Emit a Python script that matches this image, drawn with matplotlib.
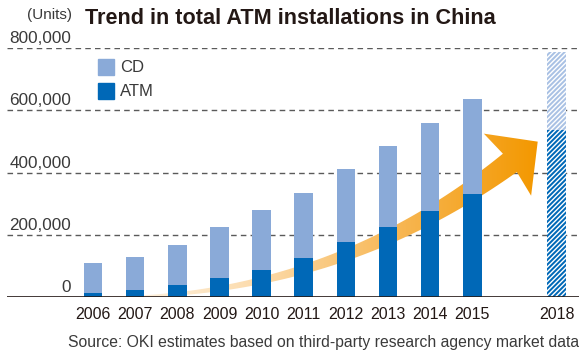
import numpy as np
import matplotlib
matplotlib.use('Agg')
import matplotlib.pyplot as plt
from matplotlib.patches import Polygon, Rectangle
from matplotlib.colors import LinearSegmentedColormap

plt.rcParams['font.family'] = ['Liberation Sans', 'DejaVu Sans']
plt.rcParams['hatch.linewidth'] = 1.0

# data (units)
years = ['2006', '2007', '2008', '2009', '2010', '2011', '2012', '2013', '2014', '2015', '2018']
atm = np.array([14000, 22000, 40000, 61000, 88000, 124000, 176000, 225000, 277000, 330000, 537000])
total = np.array([108000, 128000, 166000, 224000, 279000, 335000, 411000, 485000, 558000, 636000, 787000])
cd = total - atm
yticks = [0, 200000, 400000, 600000, 800000]

text_col = '#231815'
atm_col = '#0068b7'
cd_col = '#8aaad8'

fig = plt.figure(figsize=(5.79, 3.5), dpi=100)
ax = fig.add_axes([7 / 579, 53 / 350, 572 / 579, 249 / 350])

x = np.arange(len(years), dtype=float)
x[-1] += 1  # gap before the 2018 estimate
w = 0.44

ax.set_xlim(-2.04, 11.53)
ax.set_ylim(0, 800000)

# grid lines and value labels sitting above them
for v in yticks[1:]:
    ax.axhline(v, color='#5a5a5a', lw=1.0, ls=(0, (4, 3)), zorder=1)
for v in yticks:
    ax.text(0.112, v + 6000, '{:,}'.format(v), transform=ax.get_yaxis_transform(),
            ha='right', va='bottom', fontsize=12.3, color='#3a3a3a')
ax.axhline(0, color=text_col, lw=1.2, zorder=5)

# growth arrow (built in pixel space, stored in data coords)
fig.canvas.draw()
tr = ax.transData
p0 = tr.transform((0.17, 0))
p1 = tr.transform((5.62, -9600))
p2 = tr.transform((9.89, 431000))
t = np.linspace(0, 1, 80)[:, None]
pts = (1 - t) ** 2 * p0 + 2 * (1 - t) * t * p1 + t ** 2 * p2
d = 2 * (1 - t) * (p1 - p0) + 2 * t * (p2 - p1)
d = d / np.linalg.norm(d, axis=1)[:, None]
nrm = np.column_stack([-d[:, 1], d[:, 0]])
half = (1 + 22 * t[:, 0] ** 1.3) / 2
left = pts + nrm * half[:, None]
right = pts - nrm * half[:, None]
end, de, ne = pts[-1], d[-1], nrm[-1]
tip = end + 35 * de
barb_l = end + 39 * ne - 3 * de
barb_r = end - 39 * ne - 3 * de
outline = np.vstack([left, [barb_l, tip, barb_r], right[::-1]])
outline = tr.inverted().transform(outline)
arrow = Polygon(outline, closed=True, facecolor='none', edgecolor='none', transform=ax.transData)
ax.add_patch(arrow)
cmap = LinearSegmentedColormap.from_list('arr', [(0, '#fff8ee'), (0.35, '#fcdcae'),
                                                  (0.7, '#f7b54f'), (1, '#f39800')])
grad = np.linspace(0, 1, 256)[None, :]
xmin, xmax = outline[:, 0].min(), outline[:, 0].max()
ymin, ymax = outline[:, 1].min(), outline[:, 1].max()
im = ax.imshow(grad, cmap=cmap, extent=(xmin, xmax, ymin, ymax), aspect='auto',
               origin='lower', zorder=2, interpolation='bilinear')
im.set_clip_path(arrow)

# stacked bars; 2018 is an estimate (hatched)
solid = slice(0, len(years) - 1)
ax.bar(x[solid], atm[solid], w, color=atm_col, zorder=3)
ax.bar(x[solid], cd[solid], w, bottom=atm[solid], color=cd_col, zorder=3)
ax.bar(x[-1], atm[-1], w, color=atm_col, edgecolor='white', lw=0, hatch='///////', zorder=3)
ax.bar(x[-1], cd[-1], w, bottom=atm[-1], color='#a9c1e4', edgecolor='white', lw=0,
       hatch='///////', zorder=3)

ax.set_xticks(x)
ax.set_xticklabels(years, fontsize=11.5, color=text_col)
ax.tick_params(axis='x', length=0, pad=7)
ax.set_yticks([])
for s in ax.spines.values():
    s.set_visible(False)

# legend
ax.add_patch(Rectangle((98 / 579, (350 - 75) / 350), 16 / 579, 16 / 350, transform=fig.transFigure,
                       color=cd_col, zorder=6))
ax.add_patch(Rectangle((98 / 579, (350 - 99) / 350), 16 / 579, 16 / 350, transform=fig.transFigure,
                       color=atm_col, zorder=6))
fig.text(120 / 579, (350 - 67) / 350, 'CD', fontsize=12, color='#3a3a3a', va='center')
fig.text(120 / 579, (350 - 91) / 350, 'ATM', fontsize=12, color='#3a3a3a', va='center')

fig.text(72 / 579, (350 - 15) / 350, '(Units)', fontsize=11, color='#3a3a3a', ha='right', va='center')
fig.text(85 / 579, (350 - 19) / 350, 'Trend in total ATM installations in China', fontsize=15.6,
         fontweight='bold', color=text_col, va='center')
fig.text(1.0, (350 - 342) / 350, 'Source: OKI estimates based on third-party research agency market data',
         fontsize=11.3, color='#3a3a3a', ha='right', va='center')

fig.savefig('out.png', dpi=100)
